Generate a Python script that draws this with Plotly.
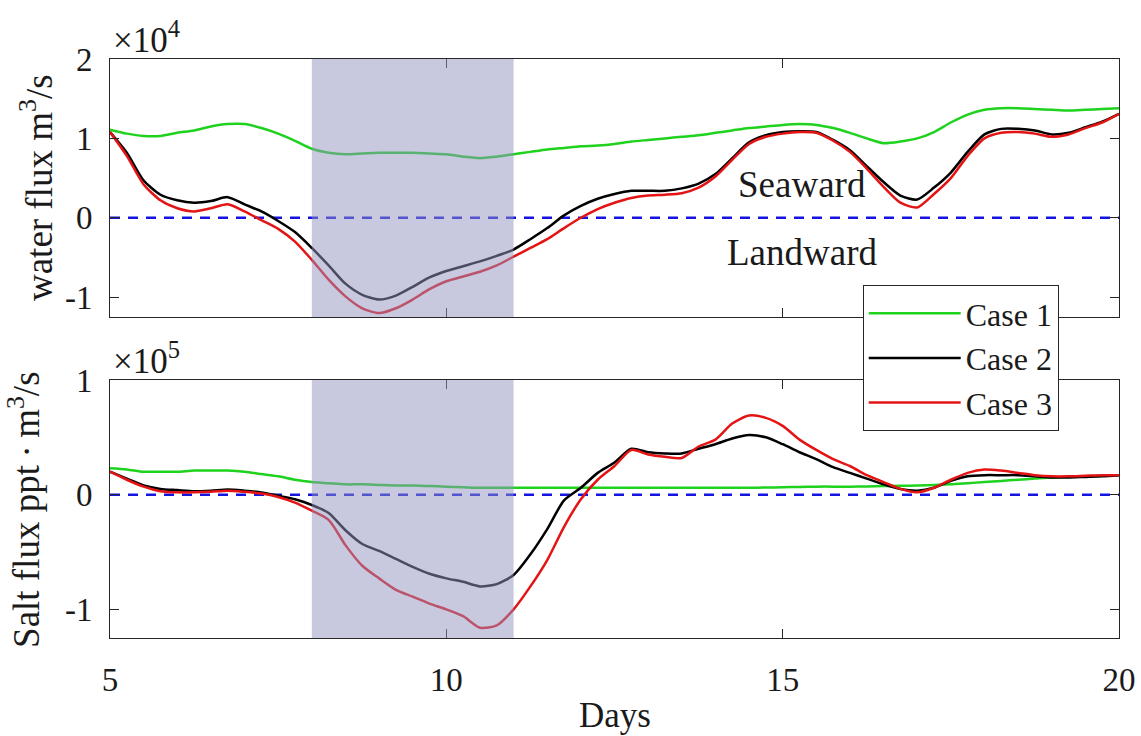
import plotly.graph_objects as go
from plotly.subplots import make_subplots

# Time axis (days), sampled every 6 hours
days = [5 + 0.25 * i for i in range(61)]

# Water flux (x 1e4 m^3/s)
water_case1 = [1.11, 1.06, 1.03, 1.03, 1.07, 1.10, 1.15, 1.18, 1.18, 1.13,
               1.06, 0.97, 0.87, 0.82, 0.80, 0.81, 0.82, 0.82, 0.82, 0.81,
               0.80, 0.77, 0.75, 0.77, 0.80, 0.83, 0.86, 0.88, 0.90, 0.91,
               0.93, 0.96, 0.98, 1.00, 1.02, 1.04, 1.07, 1.10, 1.13, 1.15,
               1.17, 1.18, 1.17, 1.13, 1.07, 1.00, 0.94, 0.96, 1.00, 1.08,
               1.20, 1.30, 1.36, 1.38, 1.38, 1.37, 1.36, 1.35, 1.36, 1.37,
               1.38]
water_case2 = [1.08, 0.82, 0.47, 0.29, 0.22, 0.19, 0.21, 0.26, 0.17, 0.08,
               -0.04, -0.18, -0.38, -0.60, -0.83, -0.97, -1.03, -0.98, -0.87, -0.75,
               -0.67, -0.61, -0.55, -0.48, -0.40, -0.27, -0.13, 0.03, 0.15, 0.24,
               0.30, 0.34, 0.34, 0.34, 0.37, 0.43, 0.55, 0.75, 0.95, 1.04,
               1.08, 1.09, 1.08, 0.98, 0.85, 0.65, 0.45, 0.28, 0.23, 0.38,
               0.57, 0.83, 1.05, 1.12, 1.12, 1.10, 1.05, 1.07, 1.14, 1.21,
               1.31]
water_case3 = [1.08, 0.78, 0.42, 0.22, 0.12, 0.08, 0.12, 0.17, 0.08, -0.03,
               -0.14, -0.30, -0.53, -0.78, -0.99, -1.14, -1.20, -1.14, -1.03, -0.90,
               -0.80, -0.74, -0.68, -0.60, -0.49, -0.38, -0.27, -0.13, 0.00, 0.11,
               0.19, 0.25, 0.28, 0.29, 0.31, 0.38, 0.52, 0.73, 0.93, 1.02,
               1.06, 1.08, 1.07, 0.97, 0.83, 0.62, 0.39, 0.19, 0.13, 0.30,
               0.50, 0.78, 1.00, 1.07, 1.08, 1.06, 1.02, 1.05, 1.13, 1.20,
               1.31]

# Salt flux (x 1e5 ppt m^3/s)
salt_case1 = [0.23, 0.22, 0.20, 0.20, 0.20, 0.21, 0.21, 0.21, 0.20, 0.18,
              0.16, 0.13, 0.11, 0.10, 0.09, 0.09, 0.085, 0.08, 0.08, 0.075,
              0.07, 0.065, 0.06, 0.06, 0.06, 0.06, 0.06, 0.06, 0.06, 0.06,
              0.06, 0.06, 0.06, 0.06, 0.06, 0.06, 0.06, 0.06, 0.06, 0.062,
              0.065, 0.067, 0.07, 0.07, 0.07, 0.072, 0.075, 0.077, 0.08, 0.085,
              0.09, 0.10, 0.11, 0.12, 0.13, 0.14, 0.15, 0.155, 0.16, 0.165,
              0.17]
salt_case2 = [0.20, 0.14, 0.08, 0.05, 0.04, 0.03, 0.035, 0.045, 0.035, 0.02,
              -0.01, -0.04, -0.09, -0.16, -0.31, -0.43, -0.49, -0.56, -0.63, -0.69,
              -0.73, -0.76, -0.80, -0.78, -0.70, -0.52, -0.30, -0.05, 0.06, 0.19,
              0.28, 0.40, 0.37, 0.36, 0.36, 0.40, 0.44, 0.49, 0.52, 0.50,
              0.44, 0.37, 0.31, 0.24, 0.19, 0.14, 0.09, 0.05, 0.035, 0.06,
              0.12, 0.16, 0.17, 0.17, 0.17, 0.16, 0.15, 0.15, 0.155, 0.16,
              0.17]
salt_case3 = [0.20, 0.13, 0.07, 0.03, 0.02, 0.02, 0.025, 0.035, 0.025, 0.01,
              -0.02, -0.07, -0.14, -0.22, -0.44, -0.62, -0.73, -0.83, -0.89, -0.95,
              -1.00, -1.06, -1.16, -1.14, -1.00, -0.80, -0.57, -0.28, -0.04, 0.13,
              0.25, 0.39, 0.35, 0.33, 0.32, 0.42, 0.48, 0.62, 0.69, 0.67,
              0.60, 0.48, 0.39, 0.31, 0.25, 0.17, 0.11, 0.05, 0.02, 0.06,
              0.13, 0.19, 0.22, 0.21, 0.19, 0.17, 0.16, 0.16, 0.165, 0.17,
              0.17]

case_names = ["Case 1", "Case 2", "Case 3"]
case_colors = ["#1ed21e", "#000000", "#e41414"]
water_scale = 1e4
salt_scale = 1e5

x_ticks = [5, 10, 15, 20]
water_ticks = [-1, 0, 1, 2]
salt_ticks = [-1, 0, 1]
shade_days = [8, 11]

FONT = "Liberation Serif, Times New Roman, serif"
AXIS_COLOR = "#262626"
TEXT_COLOR = "#1a1a1a"

fig = make_subplots(rows=2, cols=1, shared_xaxes=False, vertical_spacing=0.1088)

# zero reference lines
for row in (1, 2):
    fig.add_trace(go.Scatter(x=[days[0], days[-1]], y=[0, 0], mode="lines",
                             line=dict(color="#1414e0", width=2.5, dash="10px,8px"),
                             showlegend=False, hoverinfo="skip"), row=row, col=1)

water = [water_case1, water_case2, water_case3]
salt = [salt_case1, salt_case2, salt_case3]
for name, color, w in zip(case_names, case_colors, water):
    fig.add_trace(go.Scatter(x=days, y=[v * water_scale for v in w], mode="lines",
                             name=name, line=dict(color=color, width=2.5, shape="spline", smoothing=0.7),
                             showlegend=True), row=1, col=1)
for name, color, s in zip(case_names, case_colors, salt):
    fig.add_trace(go.Scatter(x=days, y=[v * salt_scale for v in s], mode="lines",
                             name=name, line=dict(color=color, width=2.5, shape="spline", smoothing=0.7),
                             showlegend=False), row=2, col=1)

# translucent band over the event period, drawn above the curves
for xref, yref in (("x", "y domain"), ("x2", "y2 domain")):
    fig.add_shape(type="rect", xref=xref, yref=yref,
                  x0=shade_days[0], x1=shade_days[1], y0=0, y1=1,
                  fillcolor="rgba(147,147,192,0.51)", line=dict(width=0), layer="above")

axis_common = dict(showline=True, linecolor=AXIS_COLOR, linewidth=1, mirror="ticks",
                   ticks="inside", ticklen=9, tickwidth=1, tickcolor=AXIS_COLOR,
                   showgrid=False, zeroline=False, automargin=False,
                   tickfont=dict(family=FONT, size=33, color=TEXT_COLOR))

fig.update_xaxes(range=[5, 20], tickvals=x_ticks, **axis_common)
fig.update_xaxes(showticklabels=False, row=1, col=1)
fig.update_xaxes(ticktext=[str(t) for t in x_ticks], ticklabelstandoff=12, row=2, col=1)

fig.update_yaxes(range=[-1.25 * water_scale, 2 * water_scale],
                 tickvals=[t * water_scale for t in water_ticks],
                 ticktext=[str(t) for t in water_ticks],
                 ticklabelstandoff=10, row=1, col=1, **axis_common)
fig.update_yaxes(range=[-1.25 * salt_scale, 1 * salt_scale],
                 tickvals=[t * salt_scale for t in salt_ticks],
                 ticktext=[str(t) for t in salt_ticks],
                 ticklabelstandoff=10, row=2, col=1, **axis_common)

ann_font = dict(family=FONT, color=TEXT_COLOR)
annotations = [
    dict(text="×10<sup>4</sup>", xref="x domain", yref="y domain", x=0, y=1,
         xanchor="left", yanchor="bottom", showarrow=False, xshift=1, yshift=-3,
         font=dict(size=35, **ann_font)),
    dict(text="×10<sup>5</sup>", xref="x2 domain", yref="y2 domain", x=0, y=1,
         xanchor="left", yanchor="bottom", showarrow=False, xshift=1, yshift=-3,
         font=dict(size=35, **ann_font)),
    dict(text="water flux m<sup>3</sup>/s", xref="paper", yref="y domain", x=-0.0733, y=0.5,
         xanchor="center", yanchor="middle", textangle=-90, showarrow=False,
         font=dict(size=37, **ann_font)),
    dict(text="Salt flux ppt\u2009·\u2009m<sup>3</sup>/s", xref="paper", yref="y2 domain",
         x=-0.0843, y=0.5, xanchor="center", yanchor="middle", textangle=-90, showarrow=False,
         font=dict(size=37, **ann_font)),
    dict(text="Days", xref="paper", yref="paper", x=0.5, y=-0.1345,
         xanchor="center", yanchor="middle", showarrow=False,
         font=dict(size=35, **ann_font)),
    dict(text="Seaward", xref="x", yref="y", x=15.29, y=0.42 * water_scale,
         xanchor="center", yanchor="middle", showarrow=False,
         font=dict(size=37, **ann_font)),
    dict(text="Landward", xref="x", yref="y", x=15.29, y=-0.44 * water_scale,
         xanchor="center", yanchor="middle", showarrow=False,
         font=dict(size=37, **ann_font)),
]

fig.update_layout(
    width=1141, height=736,
    margin=dict(l=110, r=22, t=59, b=98),
    paper_bgcolor="white", plot_bgcolor="white",
    font=dict(family=FONT, color=TEXT_COLOR),
    annotations=annotations,
    legend=dict(x=0.746, y=0.6097, xref="paper", yref="paper", xanchor="left", yanchor="top",
                bgcolor="white", bordercolor="#262626", borderwidth=1,
                font=dict(family=FONT, size=32, color=TEXT_COLOR),
                itemwidth=92, tracegroupgap=0),
)
fig.update_yaxes(domain=[0.5544, 1.0], row=1, col=1)
fig.update_yaxes(domain=[0.0, 0.4456], row=2, col=1)

fig.write_html("out.html")
